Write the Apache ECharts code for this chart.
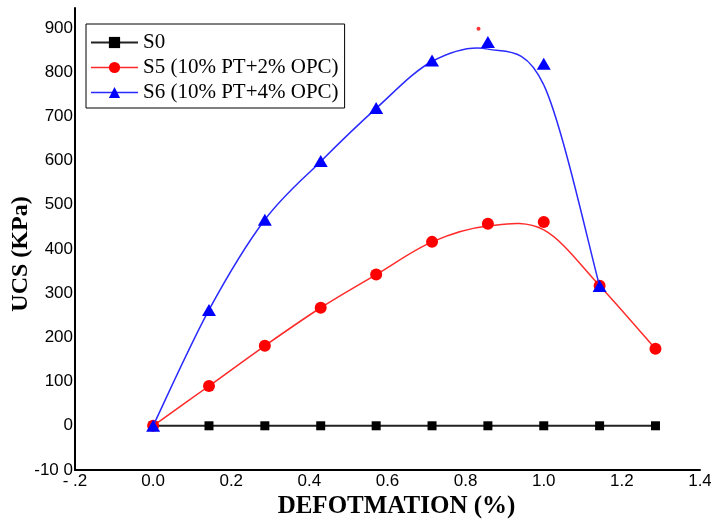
<!DOCTYPE html>
<html>
<head>
<meta charset="utf-8">
<script src="https://cdn.jsdelivr.net/npm/echarts@6/dist/echarts.min.js"></script>
<style>html,body{margin:0;padding:0;background:#fff}#c{width:711px;height:524px}</style>
</head>
<body>
<div id="c"></div>
<script>
// Strain values (%) of the measured points
const strain = [0, 0.143, 0.286, 0.429, 0.571, 0.714, 0.857, 1.0, 1.143, 1.286];
// Measured UCS (KPa)
const s0 = [0, 0, 0, 0, 0, 0, 0, 0, 0, 0];
const s5 = [0, 90, 181, 267, 342, 416, 457, 461, 317, 174];
const s6 = [0, 262, 466, 599, 719, 826, 868, 819, 316];
// Fitted curves (same strain positions)
const s5Fit = [0, 90, 181, 267, 342, 416, 452, 443, 317, 174];
const s6Fit = [0, 262, 466, 598, 718, 824, 852, 771, 316];
// stray mark in the legend box
const strayX = [0.833];
const strayY = [898];
const names = ['S0', 'S5 (10% PT+2% OPC)', 'S6 (10% PT+4% OPC)'];

const pair = (ys) => ys.map((y, i) => [strain[i], y]);

// draws a smooth (Catmull-Rom) curve through the fitted values, positioned by the axes
function curveRenderer(ys, color) {
  return function (params, api) {
    if (params.dataIndex !== 0) return null;
    const pts = ys.map((y, i) => api.coord([strain[i], y]));
    const n = pts.length;
    const children = [];
    for (let i = 0; i < n - 1; i++) {
      const p0 = pts[Math.max(i - 1, 0)], p1 = pts[i], p2 = pts[i + 1], p3 = pts[Math.min(i + 2, n - 1)];
      children.push({
        type: 'bezierCurve',
        shape: {
          x1: p1[0], y1: p1[1], x2: p2[0], y2: p2[1],
          cpx1: p1[0] + (p2[0] - p0[0]) / 6, cpy1: p1[1] + (p2[1] - p0[1]) / 6,
          cpx2: p2[0] - (p3[0] - p1[0]) / 6, cpy2: p2[1] - (p3[1] - p1[1]) / 6
        },
        style: {stroke: color, lineWidth: 1.5, fill: null}
      });
    }
    return {type: 'group', children};
  };
}

const chart = echarts.init(document.getElementById('c'), null, {renderer: 'canvas'});
const labelFont = {fontFamily: 'Liberation Sans, Arial, sans-serif', fontSize: 17, color: '#000'};
chart.setOption({
  animation: false,
  backgroundColor: '#fff',
  grid: {left: 75, right: 11, top: 8, bottom: 54, containLabel: false, outerBoundsMode: 'none'},
  legend: {
    orient: 'vertical', left: 86, top: 24,
    padding: [8, 6, 5, 4],
    borderColor: '#000', borderWidth: 1,
    itemWidth: 47, itemHeight: 14, itemGap: 4,
    textStyle: {fontFamily: 'Liberation Serif, Times New Roman, serif', fontSize: 21, color: '#000', lineHeight: 21},
    data: [
      {name: names[0], lineStyle: {color: '#222', width: 2, opacity: 1}},
      {name: names[1], lineStyle: {color: '#ff2a2a', width: 1.5, opacity: 1}},
      {name: names[2], lineStyle: {color: '#2a2aff', width: 1.5, opacity: 1}}
    ]
  },
  xAxis: {
    type: 'value', min: -0.2, max: 1.4, interval: 0.2,
    splitLine: {show: false},
    axisTick: {show: false},
    axisLine: {onZero: false, lineStyle: {color: '#000', width: 2}},
    axisLabel: Object.assign({margin: 3, formatter: v => Math.abs(v + 0.2) < 1e-6 ? '- .2' : v.toFixed(1)}, labelFont),
    name: 'DEFOTMATION (%)', nameLocation: 'middle', nameGap: 24, nameMoveOverlap: false,
    nameTextStyle: {fontFamily: 'Liberation Serif, Times New Roman, serif', fontWeight: 'bold', fontSize: 25, color: '#000', padding: [0, 0, 0, 18]}
  },
  yAxis: {
    type: 'value', min: -100, max: 945, interval: 100,
    splitLine: {show: false},
    axisTick: {show: false},
    axisLine: {onZero: false, lineStyle: {color: '#000', width: 2}},
    axisLabel: Object.assign({margin: 2, showMaxLabel: false, formatter: v => (Math.round(v) % 100 !== 0 || v > 900) ? '' : (v === -100 ? '-10 0' : String(v))}, labelFont),
    name: 'UCS (KPa)', nameLocation: 'middle', nameGap: 42, nameRotate: 90, nameMoveOverlap: false,
    nameTextStyle: {fontFamily: 'Liberation Serif, Times New Roman, serif', fontWeight: 'bold', fontSize: 24, color: '#000', padding: [0, 30, 0, 0]}
  },
  series: [
    {name: names[0], type: 'line', data: pair(s0), symbol: 'rect', symbolSize: 9,
     itemStyle: {color: '#000'}, lineStyle: {color: '#222', width: 2}, z: 2},
    {name: 'S5 fit', type: 'custom', data: pair(s5Fit), encode: {x: 0, y: 1},
     renderItem: curveRenderer(s5Fit, '#ff2a2a'), z: 3, silent: true},
    {name: names[1], type: 'line', data: pair(s5), symbol: 'circle', symbolSize: 12,
     itemStyle: {color: '#ff0000'}, lineStyle: {opacity: 0, width: 0}, z: 4},
    {name: 'S6 fit', type: 'custom', data: pair(s6Fit), encode: {x: 0, y: 1},
     renderItem: curveRenderer(s6Fit, '#2a2aff'), z: 5, silent: true},
    {name: names[2], type: 'line', data: pair(s6), symbol: 'triangle', symbolSize: [14, 12],
     itemStyle: {color: '#0000ff'}, lineStyle: {opacity: 0, width: 0}, z: 6},
    {name: 'stray', type: 'scatter', data: strayX.map((x, i) => [x, strayY[i]]), symbol: 'circle', symbolSize: 4,
     itemStyle: {color: '#ff0000'}, z: 7}
  ]
});
</script>
</body>
</html>
